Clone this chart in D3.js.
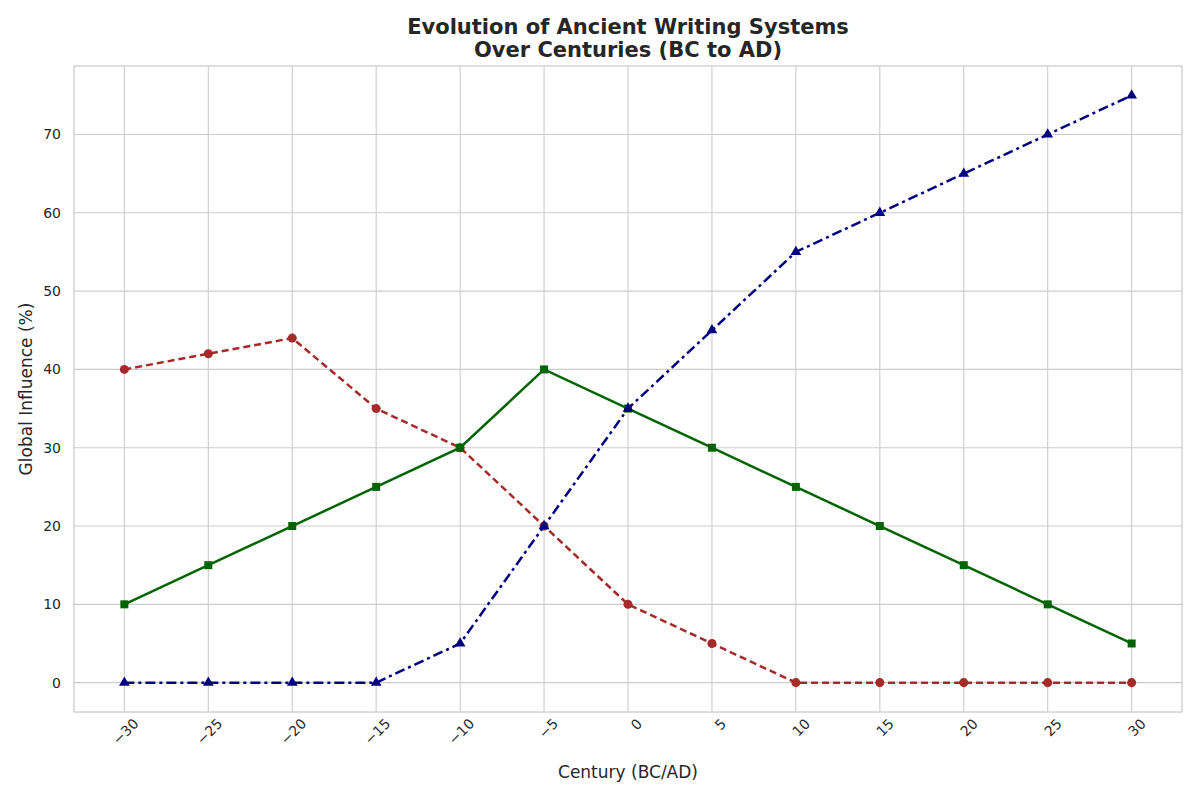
<!DOCTYPE html>
<html>
<head>
<meta charset="utf-8">
<script src="https://cdn.jsdelivr.net/npm/d3@7"></script>
<style>
  body { margin: 0; background: #fff; }
  text { font-family: "DejaVu Sans", sans-serif; }
</style>
</head>
<body>
<div class="canvas"></div>
<script>
// data
const centuries = [-30, -25, -20, -15, -10, -5, 0, 5, 10, 15, 20, 25, 30];
const redSeries = [40, 42, 44, 35, 30, 20, 10, 5, 0, 0, 0, 0, 0];
const greenSeries = [10, 15, 20, 25, 30, 40, 35, 30, 25, 20, 15, 10, 5];
const navySeries = [0, 0, 0, 0, 5, 20, 35, 45, 55, 60, 65, 70, 75];
const yTicks = [0, 10, 20, 30, 40, 50, 60, 70];

const margin = { top: 66, right: 18, bottom: 88, left: 74 };
const width = 1200, height = 800;
const graphWidth = width - margin.left - margin.right;
const graphHeight = height - margin.top - margin.bottom;

const svg = d3.select('.canvas').append('svg')
  .attr('width', width).attr('height', height);

const graph = svg.append('g')
  .attr('transform', `translate(${margin.left}, ${margin.top})`);

const x = d3.scaleLinear().domain([-33, 33]).range([0, graphWidth]);
const y = d3.scaleLinear().domain([-3.75, 78.75]).range([graphHeight, 0]);

// grid
graph.append('g').selectAll('line').data(centuries).enter().append('line')
  .attr('x1', d => x(d)).attr('x2', d => x(d))
  .attr('y1', 0).attr('y2', graphHeight)
  .attr('stroke', '#cccccc').attr('stroke-width', 1.1);
graph.append('g').selectAll('line').data(yTicks).enter().append('line')
  .attr('x1', 0).attr('x2', graphWidth)
  .attr('y1', d => y(d)).attr('y2', d => y(d))
  .attr('stroke', '#cccccc').attr('stroke-width', 1.1);

// frame
graph.append('rect')
  .attr('width', graphWidth).attr('height', graphHeight)
  .attr('fill', 'none').attr('stroke', '#cccccc').attr('stroke-width', 1.3);

// axes
const xAxis = d3.axisBottom(x).tickValues(centuries).tickSize(0).tickPadding(8)
  .tickFormat(d => d < 0 ? '\u2212' + Math.abs(d) : d);
const xAxisGroup = graph.append('g')
  .attr('transform', `translate(0, ${graphHeight})`).call(xAxis);
xAxisGroup.select('.domain').remove();
xAxisGroup.selectAll('text')
  .attr('font-size', 14).attr('fill', '#262626')
  .attr('transform', 'rotate(-45)').attr('text-anchor', 'end')
  .attr('dx', '0.1em').attr('dy', '0.8em');

const yAxis = d3.axisLeft(y).tickValues(yTicks).tickSize(0).tickPadding(13);
const yAxisGroup = graph.append('g').call(yAxis);
yAxisGroup.select('.domain').remove();
yAxisGroup.selectAll('text').attr('font-size', 14).attr('fill', '#262626');

// lines
const series = [
  { values: redSeries, colour: '#a52a2a', dash: '7,4', marker: 'circle' },
  { values: greenSeries, colour: '#006400', dash: null, marker: 'square' },
  { values: navySeries, colour: '#000080', dash: '10,4,3,4', marker: 'triangle' }
];

const line = d3.line().x(d => x(d[0])).y(d => y(d[1]));

series.forEach(s => {
  const pts = centuries.map((c, i) => [c, s.values[i]]);
  graph.append('path').datum(pts)
    .attr('fill', 'none').attr('stroke', s.colour).attr('stroke-width', 2.5)
    .attr('stroke-dasharray', s.dash).attr('d', line);
  const sym = s.marker === 'circle' ? d3.symbolCircle
    : s.marker === 'square' ? d3.symbolSquare : d3.symbolTriangle;
  graph.append('g').selectAll('path').data(pts).enter().append('path')
    .attr('transform', d => `translate(${x(d[0])}, ${y(d[1])})`)
    .attr('d', d3.symbol().type(sym).size(s.marker === 'triangle' ? 50 : 64))
    .attr('fill', s.colour);
});

// labels
svg.append('text').attr('x', 628).attr('y', 34).attr('text-anchor', 'middle')
  .attr('font-size', 21).attr('font-weight', 'bold').attr('fill', '#262626')
  .text('Evolution of Ancient Writing Systems');
svg.append('text').attr('x', 628).attr('y', 57).attr('text-anchor', 'middle')
  .attr('font-size', 21).attr('font-weight', 'bold').attr('fill', '#262626')
  .text('Over Centuries (BC to AD)');
svg.append('text').attr('x', 628).attr('y', 778).attr('text-anchor', 'middle')
  .attr('font-size', 17).attr('fill', '#262626').text('Century (BC/AD)');
svg.append('text').attr('transform', 'translate(32, 389) rotate(-90)')
  .attr('text-anchor', 'middle')
  .attr('font-size', 17).attr('fill', '#262626').text('Global Influence (%)');
</script>
</body>
</html>
